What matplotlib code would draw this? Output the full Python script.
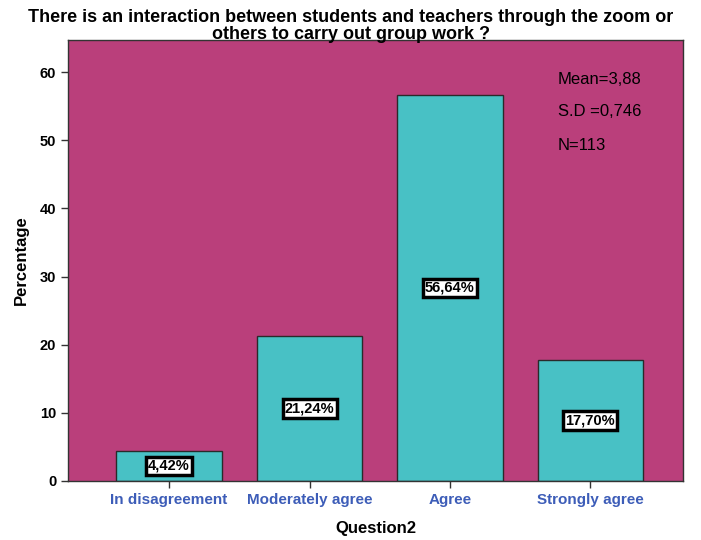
import matplotlib
matplotlib.use("Agg")
import matplotlib.pyplot as plt

categories = ["In disagreement", "Moderately agree", "Agree", "Strongly agree"]
values = [4.42, 21.24, 56.64, 17.70]
labels = ["4,42%", "21,24%", "56,64%", "17,70%"]
yticks = [0, 10, 20, 30, 40, 50, 60]
stats = ["Mean=3,88", "S.D =0,746", "N=113"]

plt.rcParams['font.family'] = ['Liberation Sans', 'DejaVu Sans']

fig = plt.figure(figsize=(7.01, 5.4), dpi=100)
ax = fig.add_axes([68/701, 1 - 481/540, (683-68)/701, (481-40)/540])
ax.set_facecolor("#BA3F7B")

x = list(range(len(categories)))
ax.bar(x, values, width=0.75, color="#48C1C5", edgecolor="#2a2a2a", linewidth=1.0, zorder=2)
for xi, v, lab in zip(x, values, labels):
    ax.text(xi, v / 2, lab, ha="center", va="center", fontsize=10.5, fontweight="bold",
            color="black", zorder=3,
            bbox=dict(boxstyle="square,pad=0.15", facecolor="white", edgecolor="black", linewidth=2.5))

ax.set_xlim(-0.72, 3.66)
ax.set_ylim(0, 64.7)
ax.set_yticks(yticks)
ax.set_yticklabels([str(t) for t in yticks], fontsize=10.5, fontweight="bold")
ax.set_xticks(x)
ax.set_xticklabels(categories, fontsize=11, fontweight="bold", color="#3D5DB8")
ax.tick_params(axis="both", length=5, width=1, color="#333333")
for s in ax.spines.values():
    s.set_color("#333333")
    s.set_linewidth(1)

ax.set_xlabel("Question2", fontsize=12, fontweight="bold", labelpad=10)
ax.set_ylabel("Percentage", fontsize=12, fontweight="bold", labelpad=8)

fig.text(0.5, 1 - 26/540, "There is an interaction between students and teachers through the zoom or\nothers to carry out group work ?",
         ha="center", va="center", fontsize=13, fontweight="bold", linespacing=1.05)

for i, s in enumerate(stats):
    fig.text(558/701, 1 - (79 + 33 * i)/540, s, ha="left", va="center", fontsize=12, color="black")

fig.savefig("out.png", dpi=100)
